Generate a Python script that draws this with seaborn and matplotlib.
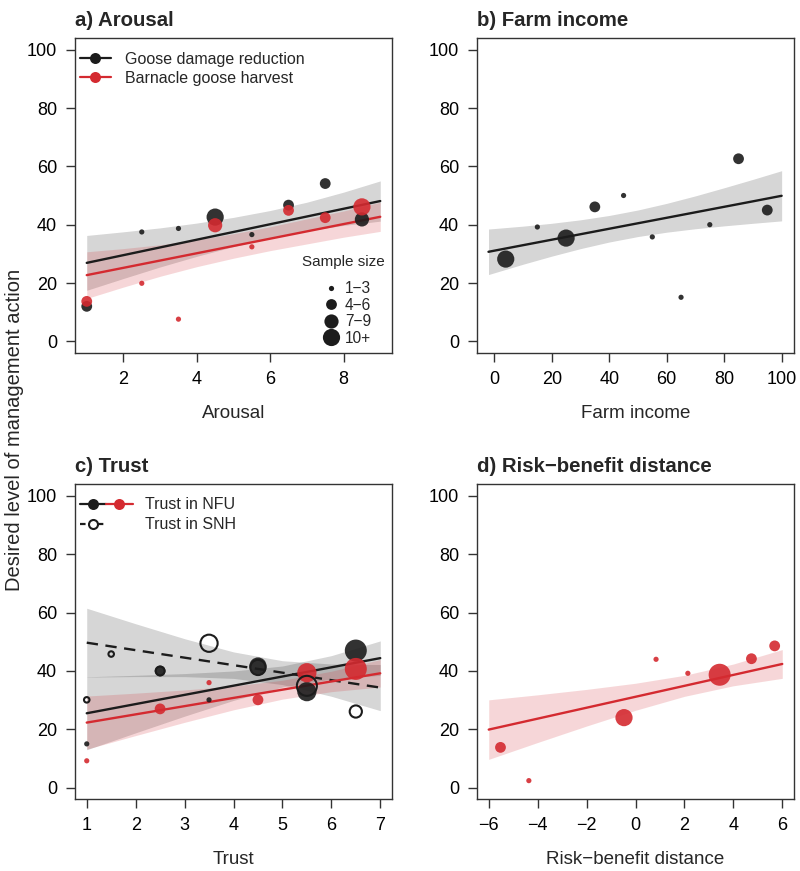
import pandas as pd
import matplotlib
matplotlib.use('Agg')
import matplotlib.pyplot as plt
import seaborn as sns
from matplotlib.lines import Line2D
from matplotlib.legend_handler import HandlerTuple

sns.set_style('ticks')
plt.rcParams['font.family'] = ['Liberation Sans', 'DejaVu Sans']

BLACK = '#1c1c1c'
RED = '#d42a30'
SPINE = '#333333'
PX = 0.72  # points per pixel at dpi 100

# ---------------- a) Arousal ----------------
arousal_x = [1, 2.5, 3.5, 4.5, 5.5, 6.5, 7.5, 8.5]
arousal_damage = [12.0, 37.5, 38.7, 42.6, 36.6, 46.7, 54.1, 41.8]
arousal_damage_n = [5, 2, 2, 11, 2, 5, 5, 8]
arousal_harvest = [13.7, 19.9, 7.6, 39.8, 32.4, 44.9, 42.4, 46.1]
arousal_harvest_n = [5, 2, 2, 8, 2, 5, 5, 11]
# fitted lines and 95% bands
arousal_fit_x = [1, 2, 3, 4, 5, 6, 7, 8, 9]
arousal_damage_fit = [26.9, 29.55, 32.2, 34.85, 37.5, 40.15, 42.8, 45.45, 48.1]
arousal_damage_lo = [17.5, 21.55, 25.5, 29.15, 32.5, 35.45, 37.9, 39.75, 41.2]
arousal_damage_hi = [36.3, 37.55, 38.9, 40.55, 42.5, 44.85, 47.7, 51.15, 55.0]
arousal_harvest_fit = [22.7, 25.2, 27.7, 30.2, 32.7, 35.2, 37.7, 40.2, 42.7]
arousal_harvest_lo = [14.7, 18.6, 22.3, 25.6, 28.5, 31.1, 33.4, 35.7, 37.7]
arousal_harvest_hi = [30.7, 31.8, 33.1, 34.8, 36.9, 39.3, 42.0, 44.7, 47.7]

# ---------------- b) Farm income ----------------
income_x = [4, 15, 25, 35, 45, 55, 65, 75, 85, 95]
income_damage = [28.2, 39.2, 35.4, 46.1, 50.0, 35.8, 15.1, 40.0, 62.6, 45.0]
income_n = [11, 2, 11, 5, 2, 2, 2, 2, 5, 5]
income_fit_x = [-2, 10, 20, 30, 40, 50, 60, 70, 80, 90, 100]
income_fit = [30.7, 32.96, 34.84, 36.72, 38.6, 40.48, 42.36, 44.24, 46.12, 48.0, 49.9]
income_lo = [22.9, 26.43, 29.21, 31.78, 34.05, 35.93, 37.42, 38.61, 39.59, 40.47, 41.3]
income_hi = [38.5, 39.49, 40.47, 41.66, 43.15, 45.03, 47.3, 49.87, 52.65, 55.53, 58.5]

# ---------------- c) Trust ----------------
trust_x = [1, 2.5, 3.5, 4.5, 5.5, 6.5]
trust_nfu_damage = [15.0, 40.0, 30.1, 41.7, 32.9, 47.0]
trust_nfu_damage_n = [2, 5, 2, 11, 14, 18]
trust_nfu_harvest = [9.2, 27.0, 36.0, 30.1, 39.4, 40.7]
trust_nfu_harvest_n = [2, 5, 2, 5, 14, 18]
trust_snh_x = [1, 1.5, 2.5, 3.5, 4.5, 5.5, 6.5]
trust_snh_damage = [30.1, 45.8, 40.0, 49.5, 41.2, 34.9, 26.1]
trust_snh_n = [3, 3, 5, 14, 11, 18, 8]
trust_fit_x = [1, 2, 3, 4, 5, 6, 7]
trust_nfu_damage_fit = [25.5, 28.65, 31.8, 34.95, 38.1, 41.25, 44.4]
trust_nfu_damage_lo = [13.0, 18.79, 24.5, 29.91, 34.5, 37.25, 38.5]
trust_nfu_damage_hi = [38.0, 38.51, 39.1, 39.99, 41.7, 45.25, 50.3]
trust_snh_fit = [49.7, 47.13, 44.56, 41.99, 39.42, 36.85, 34.3]
trust_snh_lo = [37.9, 38.08, 38.06, 37.45, 35.33, 31.32, 26.4]
trust_snh_hi = [61.5, 56.18, 51.06, 46.53, 43.51, 42.38, 42.2]
trust_nfu_harvest_fit = [22.3, 25.12, 27.94, 30.76, 33.58, 36.4, 39.2]
trust_nfu_harvest_lo = [13.2, 17.85, 22.39, 26.68, 30.34, 32.9, 34.5]
trust_nfu_harvest_hi = [31.4, 32.39, 33.49, 34.84, 36.82, 39.9, 43.9]

# ---------------- d) Risk-benefit distance ----------------
rb_x = [-5.52, -4.36, -0.47, 0.84, 2.14, 3.44, 4.74, 5.69]
rb_harvest = [13.8, 2.4, 24.0, 44.0, 39.2, 38.7, 44.2, 48.6]
rb_n = [5, 2, 11, 2, 2, 18, 5, 5]
rb_fit_x = [-6, -4, -2, 0, 2, 4, 6]
rb_fit = [19.9, 23.65, 27.4, 31.15, 34.9, 38.65, 42.4]
rb_lo = [9.7, 15.48, 21.12, 26.51, 31.3, 34.92, 37.47]
rb_hi = [30.1, 31.82, 33.68, 35.79, 38.5, 42.38, 47.33]

size_labels = ['1\u22123', '4\u22126', '7\u22129', '10+']
size_levels = [2, 5, 8, 11]
# estimated sample size -> circle diameter (pixels)
size_px = {2: 5.2, 3: 7.5, 5: 10.8, 8: 14.2, 11: 17.2, 14: 19.2, 18: 22.0}


def draw_points(ax, x, y, n, color, hollow=False):
    df = pd.DataFrame({'x': x, 'y': y, 'n': n})
    if hollow:
        sizes = {k: ((size_px[k] - 2) * PX) ** 2 for k in df['n'].unique()}
        sns.scatterplot(data=df, x='x', y='y', size='n', sizes=sizes, legend=False, ax=ax,
                        color=color, facecolor='none', edgecolor=color, linewidth=1.5, zorder=4)
    else:
        sizes = {k: (size_px[k] * PX) ** 2 for k in df['n'].unique()}
        sns.scatterplot(data=df, x='x', y='y', size='n', sizes=sizes, legend=False, ax=ax,
                        color=color, edgecolor='none', linewidth=0, alpha=0.9, zorder=3)


def draw_fit(ax, x, fit, lo, hi, color, band_alpha, dashed=False):
    ax.fill_between(x, lo, hi, color=color, alpha=band_alpha, linewidth=0, zorder=1)
    ls = (0, (4.8, 3.2)) if dashed else '-'
    sns.lineplot(x=x, y=fit, ax=ax, color=color, linewidth=1.7, linestyle=ls,
                 errorbar=None, zorder=2)


def style_axes(ax, title, xlabel, xticks, xlim):
    ax.set_xlim(*xlim)
    ax.set_ylim(-4, 104)
    ax.set_xticks(xticks)
    ax.set_yticks([0, 20, 40, 60, 80, 100])
    ax.set_xlabel(xlabel, fontsize=13.5, labelpad=12)
    ax.set_ylabel('')
    ax.set_title(title, loc='left', fontweight='bold', fontsize=14.7, pad=9)
    ax.tick_params(direction='out', length=6.5, width=1, pad=6.5, labelsize=13,
                   color=SPINE, labelcolor='black')
    for s in ax.spines.values():
        s.set_linewidth(1.0)
        s.set_color(SPINE)


fig = plt.figure(figsize=(8, 8.71), dpi=100)
W, H = 800, 871


def add_ax(left, top, width=317, height=315):
    return fig.add_axes([left / W, 1 - (top + height) / H, width / W, height / H])


ax_a = add_ax(75, 38)
ax_b = add_ax(477, 38)
ax_c = add_ax(75, 484.3)
ax_d = add_ax(477, 484.3)

# a) Arousal
draw_fit(ax_a, arousal_fit_x, arousal_damage_fit, arousal_damage_lo, arousal_damage_hi, BLACK, 0.18)
draw_fit(ax_a, arousal_fit_x, arousal_harvest_fit, arousal_harvest_lo, arousal_harvest_hi, RED, 0.19)
draw_points(ax_a, arousal_x, arousal_damage, arousal_damage_n, BLACK)
draw_points(ax_a, arousal_x, arousal_harvest, arousal_harvest_n, RED)
style_axes(ax_a, 'a) Arousal', 'Arousal', [2, 4, 6, 8], (0.68, 9.32))

main_handles = [Line2D([], [], color=c, lw=1.6, marker='o', markersize=11 * PX, markeredgewidth=0)
                for c in (BLACK, RED)]
leg = ax_a.legend(main_handles, ['Goose damage reduction', 'Barnacle goose harvest'],
                  loc='upper left', bbox_to_anchor=(0, 0.972), frameon=False, fontsize=11.5,
                  handlelength=1.95, handletextpad=0.85, borderaxespad=0.1, borderpad=0.2,
                  labelspacing=0.27)
ax_a.add_artist(leg)
size_handles = [Line2D([], [], ls='none', marker='o', color=BLACK, markersize=size_px[n] * PX,
                       markeredgewidth=0) for n in size_levels]
ax_a.legend(size_handles, size_labels, loc='lower left', bbox_to_anchor=(0.773, 0.013),
            frameon=False, fontsize=11.2, handlelength=1.0, handletextpad=0.4,
            labelspacing=0.1, borderaxespad=0.0, borderpad=0.2)
ax_a.text(0.848, 0.289, 'Sample size', transform=ax_a.transAxes, ha='center', va='center',
          fontsize=11)

# b) Farm income
draw_fit(ax_b, income_fit_x, income_fit, income_lo, income_hi, BLACK, 0.18)
draw_points(ax_b, income_x, income_damage, income_n, BLACK)
style_axes(ax_b, 'b) Farm income', 'Farm income', [0, 20, 40, 60, 80, 100], (-6.0, 104.3))

# c) Trust
draw_fit(ax_c, trust_fit_x, trust_nfu_damage_fit, trust_nfu_damage_lo, trust_nfu_damage_hi, BLACK, 0.18)
draw_fit(ax_c, trust_fit_x, trust_snh_fit, trust_snh_lo, trust_snh_hi, BLACK, 0.18, dashed=True)
draw_fit(ax_c, trust_fit_x, trust_nfu_harvest_fit, trust_nfu_harvest_lo, trust_nfu_harvest_hi, RED, 0.19)
draw_points(ax_c, trust_x, trust_nfu_damage, trust_nfu_damage_n, BLACK)
draw_points(ax_c, trust_x, trust_nfu_harvest, trust_nfu_harvest_n, RED)
draw_points(ax_c, trust_snh_x, trust_snh_damage, trust_snh_n, BLACK, hollow=True)
style_axes(ax_c, 'c) Trust', 'Trust', [1, 2, 3, 4, 5, 6, 7], (0.76, 7.24))

nfu = (Line2D([], [], color=BLACK, lw=1.6, marker='o', markersize=11 * PX, markeredgewidth=0),
       Line2D([], [], color=RED, lw=1.6, marker='o', markersize=11 * PX, markeredgewidth=0))
snh = (Line2D([], [], color=BLACK, lw=1.6, ls=(0, (2.5, 1.5)), marker='o', markersize=9 * PX,
              markerfacecolor='white', markeredgecolor=BLACK, markeredgewidth=1.5),
       Line2D([], [], color='none', lw=0))
ax_c.legend([nfu, snh], ['Trust in NFU', 'Trust in SNH'],
            handler_map={tuple: HandlerTuple(ndivide=None, pad=0)},
            loc='upper left', bbox_to_anchor=(0, 0.974), frameon=False, fontsize=11.5,
            handlelength=3.3, handletextpad=0.8, borderaxespad=0.1, borderpad=0.2,
            labelspacing=0.32)

# d) Risk-benefit distance
draw_fit(ax_d, rb_fit_x, rb_fit, rb_lo, rb_hi, RED, 0.19)
draw_points(ax_d, rb_x, rb_harvest, rb_n, RED)
style_axes(ax_d, 'd) Risk\u2212benefit distance', 'Risk\u2212benefit distance',
           [-6, -4, -2, 0, 2, 4, 6], (-6.48, 6.48))

fig.text(15 / W, 1 - 430 / H, 'Desired level of management action', rotation=90,
         ha='center', va='center', fontsize=14.5)

fig.savefig('out.png', dpi=100)
